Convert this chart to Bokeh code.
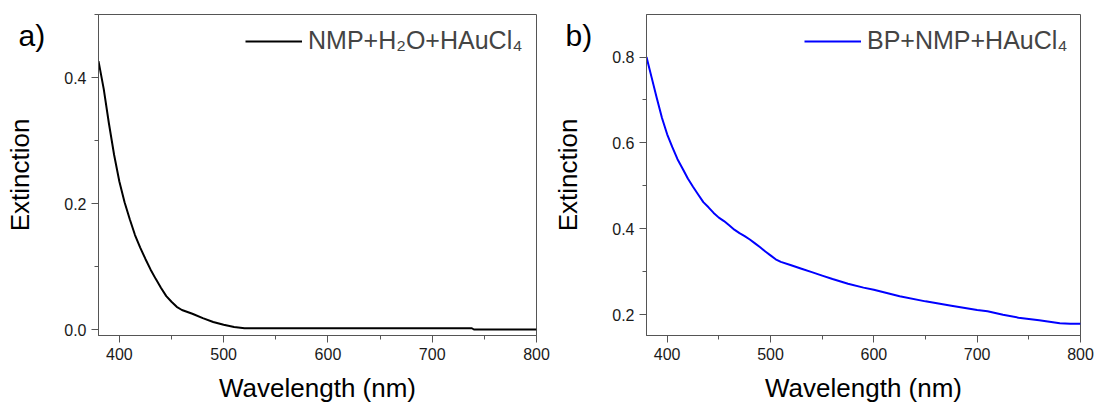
from bokeh.plotting import figure
from bokeh.layouts import row
from bokeh.models import (SingleIntervalTicker, Range1d, Legend, LegendItem,
                          NumeralTickFormatter)
from bokeh.embed import file_html
from bokeh.resources import INLINE

# ---- data ----
wl_a = [380, 385, 390, 395, 400, 405, 410, 415, 420, 425, 430, 435, 440, 445, 450,
        455, 460, 470, 480, 490, 500, 510, 520, 540, 600, 700, 738, 740, 800]
ext_a = [0.426, 0.382, 0.327, 0.277, 0.235, 0.202, 0.175, 0.150, 0.130, 0.112, 0.095,
         0.080, 0.066, 0.053, 0.044, 0.036, 0.031, 0.025, 0.018, 0.012, 0.0075, 0.004,
         0.002, 0.002, 0.002, 0.002, 0.002, 0.0, 0.0]

wl_b = [380, 385, 390, 395, 400, 405, 410, 415, 420, 425, 430, 435, 440, 445, 450,
        455, 460, 465, 470, 475, 480, 485, 490, 495, 500, 505, 510, 520, 530, 540,
        550, 560, 575, 590, 600, 625, 650, 675, 700, 710, 725, 740, 760, 780, 790, 800]
ext_b = [0.800, 0.752, 0.704, 0.658, 0.620, 0.590, 0.562, 0.540, 0.517, 0.498, 0.480,
         0.462, 0.450, 0.437, 0.426, 0.418, 0.408, 0.398, 0.390, 0.383, 0.375, 0.366,
         0.357, 0.347, 0.338, 0.329, 0.323, 0.315, 0.307, 0.299, 0.291, 0.283, 0.272,
         0.263, 0.258, 0.243, 0.231, 0.221, 0.211, 0.208, 0.200, 0.193, 0.187, 0.180,
         0.179, 0.179]

label_a = "NMP+H\u2082O+HAuCl\u2084"
label_b = "BP+NMP+HAuCl\u2084"
x_label = "Wavelength (nm)"
y_label = "Extinction"
letters = ["a)", "b)"]

FONT = "Liberation Sans"
AX = "#555555"
H = 405


def panel(wl, ext, color, legend_text, letter, yr, width, bl, br, lw, letter_offset):
    p = figure(width=width, height=H, x_range=Range1d(380, 800), y_range=Range1d(*yr),
               output_backend="svg", toolbar_location=None,
               min_border_left=bl, min_border_right=br, min_border_top=14,
               min_border_bottom=70)
    p.xgrid.visible = False
    p.ygrid.visible = False
    p.outline_line_color = AX
    p.outline_line_alpha = 1
    p.background_fill_color = "white"
    p.border_fill_color = "white"
    r = p.line(wl, ext, line_color=color, line_width=2)

    p.xaxis.ticker = SingleIntervalTicker(interval=100, num_minor_ticks=2)
    p.yaxis.ticker = SingleIntervalTicker(interval=0.2, num_minor_ticks=2)
    p.yaxis.formatter = NumeralTickFormatter(format="0.0")
    for ax in (p.xaxis[0], p.yaxis[0]):
        ax.axis_line_color = AX
        ax.major_tick_line_color = AX
        ax.minor_tick_line_color = AX
        ax.major_tick_out = 7
        ax.major_tick_in = 0
        ax.minor_tick_out = 4
        ax.minor_tick_in = 0
        ax.major_label_text_font = FONT
        ax.major_label_text_font_size = "16px"
        ax.major_label_text_color = "#1a1a1a"
        ax.major_label_standoff = 5
        ax.axis_label_text_font = FONT
        ax.axis_label_text_font_style = "normal"
        ax.axis_label_text_font_size = "26px"
        ax.axis_label_text_color = "black"
    p.xaxis.axis_label = x_label
    p.yaxis.axis_label = y_label
    p.xaxis.axis_label_standoff = 10
    p.yaxis.axis_label_standoff = 26

    leg = Legend(items=[LegendItem(label=legend_text, renderers=[r])], location="top_right",
                 glyph_width=57, label_standoff=6, padding=10, margin=2, spacing=0,
                 label_width=lw,
                 label_text_font=FONT, label_text_font_size="25px",
                 background_fill_alpha=0, border_line_alpha=0)
    p.add_layout(leg)

    # panel letter: title with a negative standoff so it sits beside the frame's top-left
    p.title.text = letter
    p.title.align = "left"
    p.title.vertical_align = "bottom"
    p.title.offset = letter_offset
    p.title.standoff = -75
    p.title.text_font = FONT
    p.title.text_font_size = "30px"
    p.title.text_font_style = "normal"
    p.title.text_color = "black"
    return p


pa = panel(wl_a, ext_a, "black", label_a, letters[0], (-0.0095, 0.5), 550, 98, 14, 216, -80)
pb = panel(wl_b, ext_b, "#0000ff", label_b, letters[1], (0.1515, 0.899), 549, 93, 19, 201, -81)

layout = row(pa, pb)
open("out.html", "w").write(file_html(layout, INLINE))
